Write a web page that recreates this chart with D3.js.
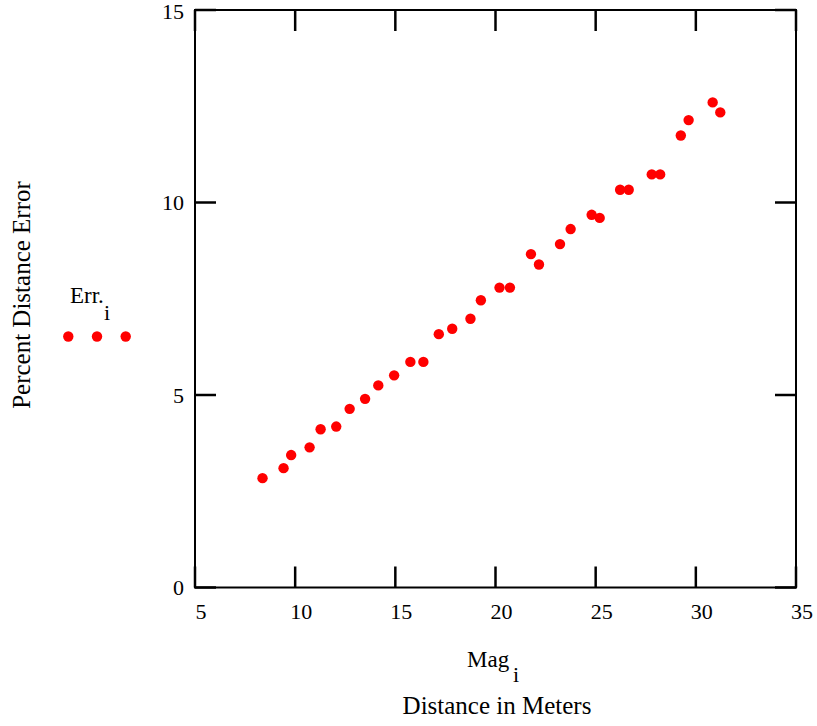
<!DOCTYPE html>
<html>
<head>
<meta charset="utf-8">
<script src="https://cdn.jsdelivr.net/npm/d3@7"></script>
<style>
  html, body { margin: 0; padding: 0; background: #fff; }
  svg { display: block; }
  text { font-family: "Liberation Serif", "Times New Roman", serif; fill: #000; }
</style>
</head>
<body>
<svg id="chart" width="817" height="726"></svg>
<script>
// Distance (m) vs. percent distance error
const mag = [8.37, 9.42, 9.80, 10.72, 11.27, 12.05, 12.72, 13.49, 14.15, 14.94,
             15.75, 16.40, 17.17, 17.84, 18.75, 19.27, 20.20, 20.72, 21.77, 22.17,
             23.22, 23.75, 24.80, 25.20, 26.22, 26.65, 27.80, 28.22, 29.25, 29.64,
             30.84, 31.22];
const err = [2.84, 3.10, 3.44, 3.64, 4.11, 4.18, 4.64, 4.90, 5.25, 5.51,
             5.86, 5.86, 6.58, 6.72, 6.98, 7.46, 7.79, 7.79, 8.66, 8.39,
             8.92, 9.31, 9.68, 9.60, 10.33, 10.33, 10.73, 10.73, 11.74, 12.14,
             12.60, 12.34];
const xTicks = [5, 10, 15, 20, 25, 30, 35];
const yTicks = [0, 5, 10, 15];

const svg = d3.select("#chart");
const plotL = 195, plotR = 796, plotT = 10, plotB = 587.5;

const x = d3.scaleLinear().domain([5, 35]).range([plotL, plotR]);
const y = d3.scaleLinear().domain([0, 15]).range([plotB, plotT]);

const red = "#ff0000";
const tickLen = 21;

// plot frame
svg.append("rect")
  .attr("x", plotL).attr("y", plotT)
  .attr("width", plotR - plotL).attr("height", plotB - plotT)
  .attr("fill", "none").attr("stroke", "#000").attr("stroke-width", 2);

// inward ticks on all four sides
const ticks = svg.append("g").attr("stroke", "#000").attr("stroke-width", 2.5);
xTicks.forEach(t => {
  ticks.append("line").attr("x1", x(t)).attr("x2", x(t)).attr("y1", plotB).attr("y2", plotB - tickLen);
  ticks.append("line").attr("x1", x(t)).attr("x2", x(t)).attr("y1", plotT).attr("y2", plotT + tickLen);
});
yTicks.forEach(t => {
  ticks.append("line").attr("x1", plotL).attr("x2", plotL + tickLen).attr("y1", y(t)).attr("y2", y(t));
  ticks.append("line").attr("x1", plotR).attr("x2", plotR - tickLen).attr("y1", y(t)).attr("y2", y(t));
});

// tick labels
svg.append("g").selectAll("text").data(xTicks).join("text")
  .attr("x", d => x(d) + 6).attr("y", 619)
  .attr("text-anchor", "middle").attr("font-size", 22)
  .text(d => d);
svg.append("g").selectAll("text").data(yTicks).join("text")
  .attr("x", 184).attr("y", d => Math.max(y(d) + 7.5, 19))
  .attr("text-anchor", "end").attr("font-size", 22)
  .text(d => d);

// points
svg.append("g").selectAll("circle").data(mag.map((m, i) => [m, err[i]])).join("circle")
  .attr("cx", d => x(d[0])).attr("cy", d => y(d[1]))
  .attr("r", 5.2).attr("fill", red);

// x axis titles
const xl = svg.append("text").attr("x", 467).attr("y", 667).attr("font-size", 23);
xl.append("tspan").text("Mag");
xl.append("tspan").attr("x", 513).attr("y", 682).attr("font-size", 22).text("i");
svg.append("text").attr("x", 497).attr("y", 714).attr("text-anchor", "middle")
  .attr("font-size", 25).text("Distance in Meters");

// y axis title
svg.append("text")
  .attr("transform", "translate(30,295) rotate(-90)")
  .attr("text-anchor", "middle").attr("font-size", 25)
  .text("Percent Distance Error");

// legend
const lg = svg.append("text").attr("x", 70).attr("y", 303).attr("font-size", 23);
lg.append("tspan").text("Err.");
lg.append("tspan").attr("x", 104).attr("y", 320).attr("font-size", 22).text("i");
svg.append("g").selectAll("circle").data([68.3, 97, 125.7]).join("circle")
  .attr("cx", d => d).attr("cy", 336.5).attr("r", 5.2).attr("fill", red);
</script>
</body>
</html>
